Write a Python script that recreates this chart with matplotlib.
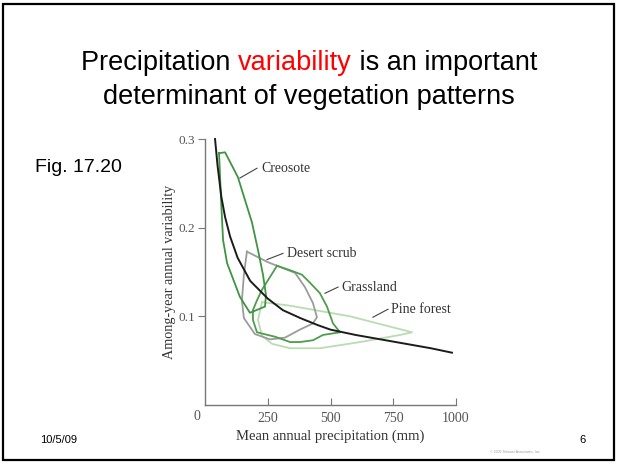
import matplotlib
matplotlib.use('Agg')
import matplotlib.pyplot as plt
from matplotlib.patches import Rectangle

# mean annual precipitation (mm) vs among-year variability
curve_x = [40, 50, 65, 80, 100, 130, 180, 250, 310, 380, 450, 500, 600, 700, 800, 900, 984]
curve_y = [0.300, 0.270, 0.235, 0.212, 0.190, 0.166, 0.140, 0.120, 0.107, 0.098, 0.090, 0.085,
           0.079, 0.074, 0.069, 0.064, 0.059]

creosote_x = [56, 80, 131, 187, 211, 231, 243, 239, 179, 139, 88, 72, 64, 56]
creosote_y = [0.284, 0.285, 0.257, 0.206, 0.175, 0.147, 0.124, 0.111, 0.104, 0.122, 0.160, 0.186, 0.231, 0.284]

scrub_x = [167, 251, 359, 398, 430, 446, 430, 378, 319, 259, 199, 155, 147, 155, 167]
scrub_y = [0.173, 0.161, 0.149, 0.133, 0.115, 0.099, 0.092, 0.085, 0.076, 0.074, 0.080, 0.098, 0.118, 0.147, 0.173]

grass_x = [287, 339, 386, 418, 458, 486, 510, 538, 470, 430, 378, 339, 279, 207, 191, 191, 207, 227, 287]
grass_y = [0.157, 0.152, 0.147, 0.138, 0.126, 0.111, 0.092, 0.082, 0.079, 0.073, 0.071, 0.071, 0.077, 0.082, 0.096, 0.107, 0.118, 0.130, 0.157]

pine_x = [227, 339, 578, 825, 777, 618, 458, 339, 267, 227, 211, 227]
pine_y = [0.116, 0.112, 0.100, 0.082, 0.079, 0.071, 0.064, 0.064, 0.069, 0.078, 0.096, 0.116]

labels = ['Creosote', 'Desert scrub', 'Grassland', 'Pine forest']
label_pos = [(219, 0.267), (319, 0.171), (538, 0.133), (737, 0.108)]
leader_start = [(139, 0.256), (247, 0.164), (478, 0.126), (669, 0.099)]
leader_end = [(207, 0.267), (311, 0.171), (530, 0.133), (729, 0.108)]

xticks = [250, 500, 750, 1000]
yticks = [0.1, 0.2, 0.3]

W, H = 618, 463
fig = plt.figure(figsize=(W / 100, H / 100), dpi=100)

# slide frame
fig.patches.append(Rectangle((3 / W, 3 / H), 611 / W, 456 / H, transform=fig.transFigure,
                             fill=False, lw=1.6, ec='black'))

# title, with the red word
sans = 'Liberation Sans'
r = fig.canvas.get_renderer()
parts = [('Precipitation ', 'black'), ('variability', 'red'), (' is an important', 'black')]
full = fig.text(0.5, 1 - 70 / H, ''.join(p[0] for p in parts), fontsize=19.5, family=sans,
                ha='center', va='baseline')
bb = full.get_window_extent(r)
full.remove()
x0 = bb.x0
for txt, col in parts:
    t = fig.text(x0 / W, 1 - 70 / H, txt, fontsize=19.5, family=sans, color=col,
                 ha='left', va='baseline')
    x0 = t.get_window_extent(r).x1
fig.text(0.5, 1 - 104 / H, 'determinant of vegetation patterns', fontsize=19.5, family=sans,
         ha='center', va='baseline')

fig.text(35 / W, 1 - 168 / H, 'Fig. 17.20', fontsize=14, family=sans, va='center')
fig.text(40 / W, 1 - 440 / H, '10/5/09', fontsize=8, family=sans, va='center')
fig.text(579 / W, 1 - 440 / H, '6', fontsize=8, family=sans, va='center')
fig.text(490 / W, 1 - 452 / H, '\u00a9 2002 Sinauer Associates, Inc.', fontsize=2.5,
         family=sans, color='#999999', va='center')

ax = fig.add_axes([205 / W, 1 - 405 / H, 251 / W, 266 / H])
serif = 'Liberation Serif'
gray = '#555555'

ax.plot(pine_x, pine_y, color='#b9dcb2', lw=1.3)
ax.plot(scrub_x, scrub_y, color='#9b9b9b', lw=1.3)
ax.plot(grass_x, grass_y, color='#4e9c4e', lw=1.3)
ax.plot(creosote_x, creosote_y, color='#3f9441', lw=1.3)
ax.plot(curve_x, curve_y, color='#1c1c1c', lw=1.4, clip_on=False)

for lab, pos, s, e in zip(labels, label_pos, leader_start, leader_end):
    ax.plot([s[0], e[0]], [s[1], e[1]], color='#444444', lw=0.8)
    ax.text(pos[0] + 6, pos[1], lab, family=serif, fontsize=10, color='#333333',
            ha='left', va='center')

ax.set_xlim(0, 1000)
ax.set_ylim(0, 0.3)
for s in ['top', 'right']:
    ax.spines[s].set_visible(False)
for s in ['left', 'bottom']:
    ax.spines[s].set_color('#777777')
    ax.spines[s].set_linewidth(1.0)

ax.set_xticks(xticks)
ax.set_xticklabels([str(v) for v in xticks], family=serif, fontsize=10, color=gray)
ax.set_yticks(yticks)
ax.set_yticklabels(['0.1', '0.2', '0.3'], family=serif, fontsize=9.5, color=gray)
ax.tick_params(axis='x', direction='in', length=5, color='#777777', pad=5)
ax.tick_params(axis='y', direction='out', length=5, color='#777777', pad=2)
ax.text(-32, -0.0135, '0', family=serif, fontsize=10, color=gray, ha='center', va='center')

ax.set_xlabel('Mean annual precipitation (mm)', family=serif, fontsize=10.5, color='#333333',
              labelpad=3)
ax.set_ylabel('Among-year annual variability', family=serif, fontsize=10.2, color='#333333',
              labelpad=2)

fig.savefig('out.png', dpi=100)
